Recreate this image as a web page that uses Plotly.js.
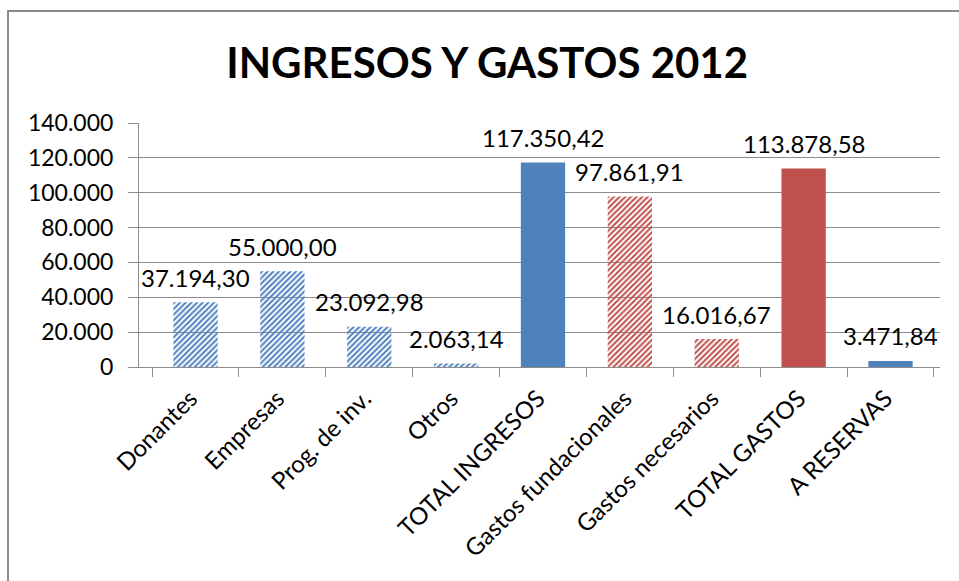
<!DOCTYPE html>
<html>
<head>
<meta charset="utf-8">
<script src="https://cdn.plot.ly/plotly-3.0.1.min.js"></script>
<style>
  html, body { margin: 0; padding: 0; background: #fff; }
  #wrap { position: relative; width: 959px; height: 581px; overflow: hidden; }
  #chart { width: 959px; height: 581px; }
  #frame { position: absolute; left: 7px; top: 10px; width: 1000px; height: 700px;
           border: 2px solid #8c8c8c; pointer-events: none; box-sizing: border-box; }
</style>
</head>
<body>
<div id="wrap">
  <div id="chart"></div>
  <div id="frame"></div>
</div>
<script>
const categories = ["Donantes", "Empresas", "Prog. de inv.", "Otros", "TOTAL INGRESOS",
                    "Gastos fundacionales", "Gastos necesarios", "TOTAL GASTOS", "A RESERVAS"];
const values = [37194.30, 55000.00, 23092.98, 2063.14, 117350.42, 97861.91, 16016.67, 113878.58, 3471.84];
const barColors = ["#4F81BD", "#4F81BD", "#4F81BD", "#4F81BD", "#4F81BD",
                   "#C0504D", "#C0504D", "#C0504D", "#4F81BD"];
const barPatterns = ["/", "/", "/", "/", "", "/", "/", "", ""];
const yTicks = [0, 20000, 40000, 60000, 80000, 100000, 120000, 140000];

function fmt(v) {
  const parts = v.toFixed(2).split(".");
  const intPart = parts[0].replace(/\B(?=(\d{3})+(?!\d))/g, ".");
  return intPart + "," + parts[1];
}
function fmtTick(v) {
  return String(v).replace(/\B(?=(\d{3})+(?!\d))/g, ".");
}

const FONT = "Lato, 'Open Sans', sans-serif";

const trace = {
  type: "bar",
  x: categories,
  y: values,
  marker: {
    color: barColors,
    line: { width: 0 },
    pattern: { shape: barPatterns, size: 4, solidity: 0.5, fillmode: "replace" }
  },
  hoverinfo: "x+y"
};

const annotations = categories.map((c, i) => ({
  x: c, y: values[i], xref: "x", yref: "y",
  text: fmt(values[i]), showarrow: false,
  yanchor: "middle", yshift: 25,
  font: { family: FONT, size: 24, color: "#000" }
}));

const layout = {
  width: 959, height: 581,
  margin: { l: 139, r: 19, t: 123, b: 214, pad: 0 },
  paper_bgcolor: "#fff", plot_bgcolor: "#fff",
  showlegend: false,
  bargap: 0.49,
  title: {
    text: "<b>INGRESOS Y GASTOS 2012</b>",
    x: 0.508, xref: "container", xanchor: "center",
    y: 1 - 63 / 581, yref: "container", yanchor: "middle",
    font: { family: FONT, size: 42, color: "#000" },
    automargin: false
  },
  xaxis: {
    type: "category",
    automargin: false,
    tickangle: -45,
    tickson: "boundaries",
    ticks: "outside", ticklen: 9, tickcolor: "#8c8c8c",
    ticklabelstandoff: 7,
    ticklabelshift: -5,
    showline: true, linecolor: "#8c8c8c", linewidth: 1,
    showgrid: false,
    tickfont: { family: FONT, size: 24, color: "#000" }
  },
  yaxis: {
    automargin: false,
    range: [0, 140000],
    tickvals: yTicks,
    ticktext: yTicks.map(fmtTick),
    ticks: "outside", ticklen: 10, tickcolor: "#8c8c8c",
    ticklabelstandoff: 10,
    showline: true, linecolor: "#8c8c8c", linewidth: 1,
    showgrid: true, gridcolor: "#8c8c8c", gridwidth: 1,
    zeroline: false,
    tickfont: { family: FONT, size: 23, color: "#000" }
  },
  annotations: annotations
};

Plotly.newPlot("chart", [trace], layout, { displayModeBar: false, staticPlot: true });
</script>
</body>
</html>
